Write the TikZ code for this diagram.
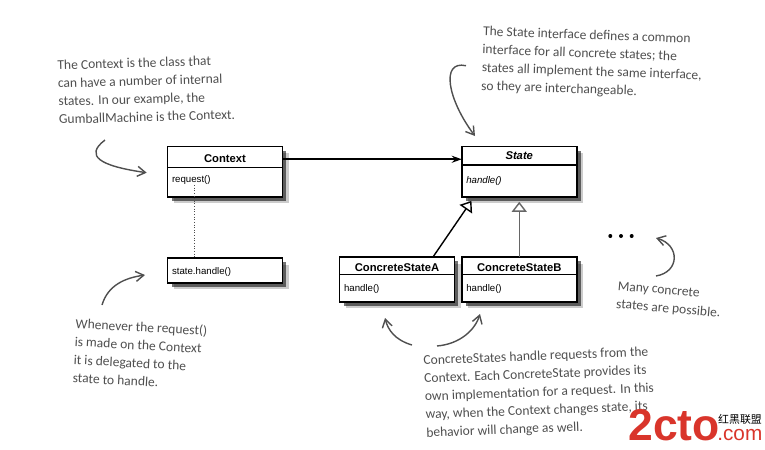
\documentclass[tikz,border=0pt]{standalone}
\usepackage{fontspec}
\setmainfont{Carlito}
\newfontfamily\umlfont{Liberation Sans}
\newfontfamily\cjkfont{Noto Sans CJK SC}
\usetikzlibrary{arrows.meta,positioning,shadows}
\definecolor{handgray}{HTML}{4F4F4F}
\definecolor{markred}{HTML}{D9352B}
\tikzset{
  classshadow/.style={
    general shadow={shadow xshift=0.13cm,shadow yshift=-0.13cm,fill=black,opacity=0.2},
    general shadow={shadow xshift=0.08cm,shadow yshift=-0.08cm,fill=black,opacity=0.55}},
  classhead/.style={draw,line width=0.95pt,fill=white,classshadow,minimum width=2.3cm,inner sep=0pt,outer sep=0pt,
    font=\umlfont\fontsize{6.4}{7.5}\selectfont\bfseries},
  classbody/.style={draw,line width=0.95pt,fill=white,classshadow,text width=2.12cm,inner xsep=0.09cm,inner ysep=0pt,outer sep=0pt,
    align=left,font=\umlfont\fontsize{5.5}{6.5}\selectfont},
  note/.style={anchor=north west,inner sep=0pt,align=left,text=handgray,font=\fontsize{7.7}{10.3}\selectfont},
  curl/.style={draw=handgray,line width=0.8pt,-{Straight Barb[length=0.16cm,width=0.2cm]}},
  gen/.style={-{Triangle[open,fill=white,length=0.2cm,width=0.3cm]},line width=0.8pt,shorten >=0.1cm},
  morepoint/.style={circle,fill=black,inner sep=0pt,minimum size=0.08cm},
}
\begin{document}
\begin{tikzpicture}[x=0.02cm,y=-0.02cm]
\useasboundingbox (0,0) rectangle (765,450);

% classes
\node[classhead,minimum height=0.42cm,text height=6.5pt] (context) at (225,157) {Context};
\node[classbody,below=0pt of context,text height=8.4pt,text depth=8.3pt] (contextbody) {request()};

\node[classhead,minimum height=0.37cm] (state) at (519.25,155.75) {\itshape State};
\node[classbody,below=0pt of state,text height=10.5pt,text depth=7.6pt] (statebody) {\itshape handle()};

\node[classbody,text height=9.5pt,text depth=4.7pt] (call) at (225,270.5) {state.handle()};

\node[classhead,minimum height=0.35cm,text height=6.5pt] (concretea) at (397,265.75) {ConcreteStateA};
\node[classbody,below=0pt of concretea,text height=9.4pt,text depth=6.2pt] (concreteabody) {handle()};

\node[classhead,minimum height=0.35cm,text height=6.5pt] (concreteb) at (519.25,265.75) {ConcreteStateB};
\node[classbody,below=0pt of concreteb,text height=9.4pt,text depth=6.2pt] (concretebbody) {handle()};

% connectors
\draw[-{Stealth[length=0.2cm,width=0.14cm]},line width=0.9pt] ([yshift=-0.045cm]context.east) -- ([yshift=-0.045cm]context.east -| state.west);
\coordinate (requestdot) at (194.5,185);
\draw[black!70,dash pattern=on 0.5pt off 1pt,line width=0.5pt] (requestdot) -- (requestdot |- call.north);
\draw[gen] ([xshift=0.72cm]concretea.north) -- ([xshift=-0.9cm]statebody.south);
\draw[gen,draw=black!60] (concreteb.north) -- (statebody.south);

% dots
\node[morepoint] (morea) at (610.3,236) {};
\node[morepoint] (moreb) at (621,236) {};
\node[morepoint] (morec) at (631.7,236) {};

% notes
\node[note,rotate=1.6] (contextnote) at (57,60) {The Context is the class that\\can have a number of internal\\states.  In our example, the\\GumballMachine is the Context.};
\node[note,rotate=-2] (statenote) at (483,26) {The State interface defines a common\\interface for all concrete states;  the\\states all implement the same interface,\\so they are interchangeable.};
\node[note,rotate=-3.1] (callnote) at (75.7,318) {Whenever the request()\\is made on the Context\\it is delegated to the\\state to handle.};
\node[note,rotate=-5] (morenote) at (618,281) {Many concrete\\states are possible.};
\node[note,rotate=2.2] (concretenote) at (423,355) {ConcreteStates handle requests from the\\Context. Each ConcreteState provides its\\own implementation for a request.  In this\\way, when the Context changes state, its\\behavior will change as well.};

% hand drawn arrows
\coordinate (curla) at (105,140);
\coordinate (curlb) at (466,65.7);
\coordinate (curlc) at (102,305);
\coordinate (curld) at (412,345);
\coordinate (curle) at (437,346);
\coordinate (curlf) at (656,276);
\draw[curl] (curla) .. controls (84,156) and (100,166) .. (146.7,172.7);
\draw[curl] (curlb) .. controls (440,60) and (448,100) .. (475,136);
\draw[curl] (curlc) .. controls (108,285) and (125,278) .. (145,275);
\draw[curl] (curld) .. controls (395,340) and (388,330) .. (385,318);
\draw[curl] (curle) .. controls (460,344) and (475,330) .. (480,314);
\draw[curl] (curlf) .. controls (680,272) and (680,245) .. (656,238);

% site mark
\node[anchor=base west,inner sep=0pt,text=markred,font=\umlfont\fontsize{25.3}{26}\selectfont\bfseries] (marktwo) at (628,440) {2cto};
\node[anchor=base west,inner sep=0pt,text=markred,font=\umlfont\fontsize{11.8}{12}\selectfont] (markcom) at (717,440) {.com};
\node[inner sep=0pt,font=\cjkfont\fontsize{6.2}{7}\selectfont] (markcn) at (740,419.5) {红黑联盟};
\end{tikzpicture}
\end{document}
